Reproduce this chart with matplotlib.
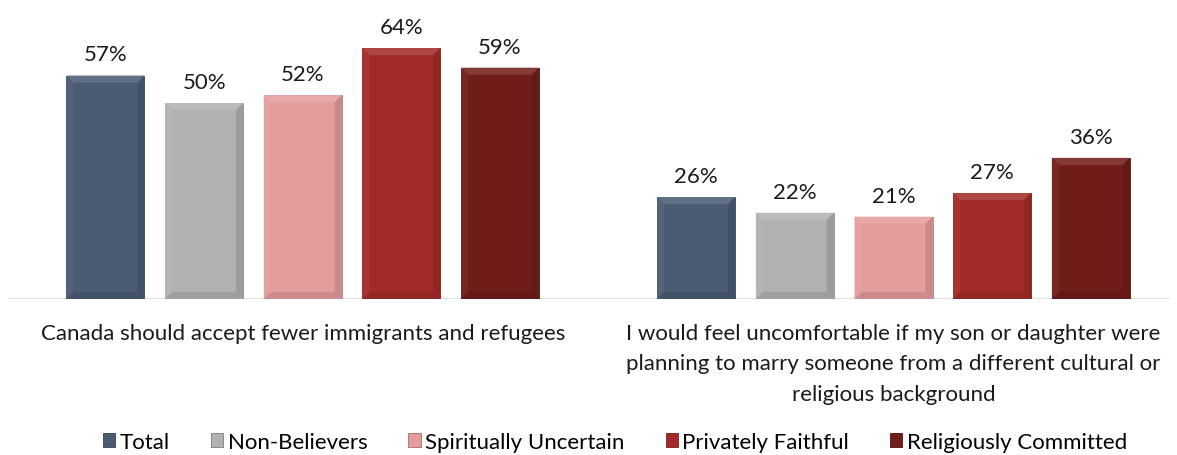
import numpy as np
import matplotlib
matplotlib.use('Agg')
import matplotlib.pyplot as plt
from matplotlib.patches import Polygon, Rectangle
from matplotlib.colors import to_rgb

plt.rcParams['font.family'] = ['Lato', 'DejaVu Sans']

categories = [
    "Canada should accept fewer immigrants and refugees",
    "I would feel uncomfortable if my son or daughter were\nplanning to marry someone from a different cultural or\nreligious background",
]
groups = ["Total", "Non-Believers", "Spiritually Uncertain", "Privately Faithful", "Religiously Committed"]
values = {
    "Total": [57, 26],
    "Non-Believers": [50, 22],
    "Spiritually Uncertain": [52, 21],
    "Privately Faithful": [64, 27],
    "Religiously Committed": [59, 36],
}
colors = ["#4b5b73", "#b1b1b1", "#e49c9c", "#a22b27", "#701c18"]
FS = 16


def shade(c, f):
    r = np.array(to_rgb(c))
    if f > 0:
        return tuple(r + (1 - r) * f)
    return tuple(r * (1 + f))


fig = plt.figure(figsize=(11.77, 4.56), dpi=100)
W, H = 1177, 456
ax = fig.add_axes([8 / W, (H - 300) / H, (1170 - 8) / W, 280 / H])

x = np.arange(len(categories))
step = 0.167
width = 0.132
ax.set_xlim(-0.499, 1.468)
ax.set_ylim(0, 280 / 3.92)

bars_all = []
for i, (g, c) in enumerate(zip(groups, colors)):
    pos = x + (i - 2) * step
    bars = ax.bar(pos, values[g], width, color=c, edgecolor=shade(c, -0.2), linewidth=0.6, zorder=2)
    bars_all.append((bars, c))
    for b, v in zip(bars, values[g]):
        ax.annotate(f"{v}%", (b.get_x() + b.get_width() / 2, v), xytext=(0, 8),
                    textcoords='offset points', ha='center', va='bottom', fontsize=FS, color='#1a1a1a')

# bevel edges on each bar
fig.canvas.draw()
inv = ax.transData.inverted()
bev = 7
for bars, c in bars_all:
    for b in bars:
        x0, y0 = ax.transData.transform((b.get_x(), 0))
        x1, y1 = ax.transData.transform((b.get_x() + b.get_width(), b.get_height()))
        faces = [
            ([(x0, y1), (x1, y1), (x1 - bev, y1 - bev), (x0 + bev, y1 - bev)], 0.13),
            ([(x0, y0), (x0 + bev, y0 + bev), (x0 + bev, y1 - bev), (x0, y1)], 0.05),
            ([(x1, y0), (x1, y1), (x1 - bev, y1 - bev), (x1 - bev, y0 + bev)], -0.12),
            ([(x0, y0), (x1, y0), (x1 - bev, y0 + bev), (x0 + bev, y0 + bev)], -0.1),
        ]
        for pts, f in faces:
            ax.add_patch(Polygon(inv.transform(pts), closed=True, facecolor=shade(c, f),
                                 edgecolor='none', zorder=3))

ax.axhline(0, color='#d9d9d9', linewidth=1.8, zorder=1)
for s in ax.spines.values():
    s.set_visible(False)
ax.set_yticks([])
ax.set_xticks(x)
ax.set_xticklabels(categories, fontsize=FS, linespacing=1.68, color='#1a1a1a')
ax.tick_params(axis='x', length=0, pad=17)

handles = [Rectangle((0, 0), 1, 1, facecolor=c, edgecolor=shade(c, -0.3), linewidth=0.6) for c in colors]
fig.legend(handles, groups, loc='center', bbox_to_anchor=(615 / W, (H - 443) / H), ncol=5,
           frameon=False, fontsize=FS, handlelength=0.55, handleheight=0.55,
           handletextpad=0.2, columnspacing=1.85)

fig.savefig("out.png", dpi=100)
